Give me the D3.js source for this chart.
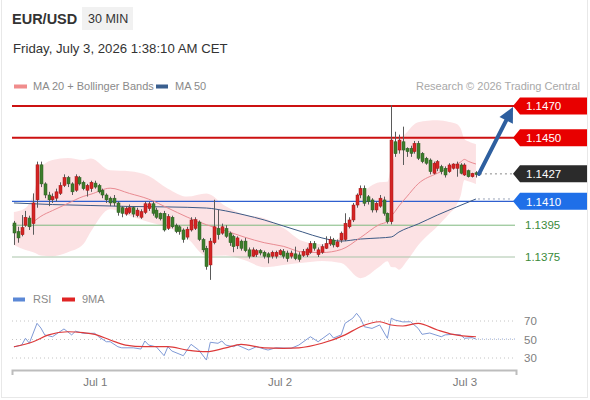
<!DOCTYPE html>
<html><head><meta charset="utf-8">
<script src="https://cdn.jsdelivr.net/npm/d3@7"></script>
<style>
html,body{margin:0;padding:0;background:#fff;}
svg{display:block;font-family:"Liberation Sans",Arial,Helvetica,sans-serif;}
</style></head><body>
<svg id="c" width="590" height="400"></svg>
<script>
// ---- EUR/USD 30-minute candles (index 0 = Jun 30 13:30 CET) ----
const open = [1.13964,1.1391,1.1389,1.1395,1.13995,1.1396,1.1411,1.1433,1.1421,1.1414,
1.1411,1.1412,1.1415,1.1420,1.1425,1.1421,1.1417,1.1425,1.1422,1.1417,
1.1418,1.14215,1.1420,1.1417,1.1414,1.1412,1.1412,1.1409,1.1406,1.1402,
1.1403,1.1406,1.1401,1.1400,1.1403,1.14055,1.14085,1.14045,1.14025,1.14025,
1.1393,1.1400,1.1395,1.1394,1.1392,1.13875,1.1392,1.1393,1.1397,1.1386,
1.13805,1.1370,1.1384,1.1393,1.1390,1.1393,1.1390,1.1388,1.1382,1.1385,
1.1385,1.13795,1.13755,1.13765,1.1379,1.1378,1.1377,1.13755,1.13755,1.13765,
1.13785,1.13775,1.13755,1.1377,1.13763,1.1376,1.13763,1.1378,1.13835,1.13765,
1.1378,1.13805,1.13832,1.13857,1.13815,1.13857,1.1386,1.1394,1.13983,1.14077,
1.1414,1.14182,1.14129,1.14109,1.14046,1.1407,1.14109,1.14025,1.13972,1.14475,
1.14423,1.14475,1.14434,1.14434,1.14413,1.14465,1.14402,1.14371,1.1436,1.14277,
1.14308,1.14318,1.14308,1.14287,1.14308,1.14308,1.14329,1.14266,1.14293,1.14255,1.1428];
const high = [1.13977,1.1394,1.14014,1.1404,1.1401,1.1415,1.1435,1.1435,1.1422,1.1416,
1.1415,1.1418,1.1422,1.1427,1.1426,1.1422,1.1427,1.1426,1.1423,1.1421,
1.1423,1.1423,1.1421,1.1418,1.1415,1.1413,1.1414,1.1410,1.1407,1.1407,
1.1408,1.1407,1.1406,1.1405,1.1410,1.1410,1.1410,1.1406,1.1403,1.1404,
1.1402,1.1401,1.1396,1.1395,1.1393,1.1394,1.1400,1.1400,1.1398,1.1387,
1.1382,1.1387,1.1411,1.14046,1.1396,1.1395,1.1391,1.1389,1.1388,1.1386,
1.1387,1.1381,1.1381,1.1380,1.1380,1.1379,1.1378,1.1379,1.1379,1.1380,
1.1380,1.1379,1.1379,1.13815,1.1378,1.1380,1.1381,1.1385,1.1385,1.1381,
1.1383,1.1388,1.1388,1.1387,1.1386,1.1391,1.14025,1.1400,1.1409,1.1415,
1.1420,1.1420,1.1414,1.1412,1.1410,1.1414,1.1413,1.1403,1.14706,1.14538,
1.1452,1.1457,1.1444,1.1445,1.1448,1.1448,1.1441,1.1438,1.1437,1.1435,
1.1436,1.1433,1.1432,1.1434,1.1434,1.1435,1.1434,1.1434,1.1430,1.1428,1.1429];
const low = [1.13826,1.1384,1.1388,1.1394,1.1392,1.1389,1.1406,1.1419,1.1412,1.1407,
1.1409,1.1410,1.1414,1.1419,1.1419,1.1414,1.1416,1.1420,1.1417,1.1413,
1.1416,1.1418,1.1415,1.1412,1.1409,1.1407,1.1407,1.1401,1.1400,1.1401,
1.1402,1.1400,1.1400,1.1399,1.1402,1.1404,1.1401,1.1399,1.1398,1.1391,
1.1392,1.1393,1.1390,1.1389,1.1384,1.1386,1.1391,1.1392,1.1385,1.1378,
1.1367,1.13606,1.1383,1.1386,1.1389,1.1387,1.1382,1.1378,1.1380,1.1379,
1.1378,1.1374,1.1375,1.1375,1.1376,1.1374,1.1371,1.1374,1.1374,1.1376,
1.1374,1.1372,1.1374,1.1373,1.1372,1.1375,1.1375,1.1377,1.1379,1.1375,
1.1377,1.1380,1.1382,1.1381,1.1381,1.1384,1.1385,1.1393,1.1397,1.1406,
1.1412,1.1407,1.1408,1.1403,1.1403,1.1406,1.1401,1.1396,1.13955,1.1438,
1.1440,1.14329,1.1438,1.1438,1.1440,1.1436,1.1434,1.1433,1.1427,1.1427,
1.1429,1.1427,1.1425,1.1428,1.1430,1.14255,1.1427,1.1426,1.1425,1.1425,1.1425];
const close = [1.13901,1.1387,1.13935,1.1400,1.1394,1.1409,1.1433,1.1421,1.1414,1.1411,
1.1413,1.1416,1.1420,1.1425,1.1421,1.1416,1.14255,1.1421,1.1418,1.1420,
1.1422,1.1419,1.1416,1.1414,1.1411,1.1409,1.1409,1.1403,1.14025,1.14055,
1.1406,1.1402,1.14045,1.14035,1.14085,1.14085,1.14025,1.1400,1.1399,1.1392,
1.14005,1.1394,1.1391,1.1391,1.1386,1.13925,1.13983,1.13985,1.1386,1.13795,
1.1369,1.1385,1.1394,1.1389,1.1394,1.1388,1.1384,1.13815,1.1387,1.13805,
1.1379,1.13755,1.13795,1.1379,1.13775,1.13755,1.1375,1.1378,1.1378,1.1379,
1.13755,1.1374,1.13775,1.1374,1.13735,1.13785,1.1380,1.13835,1.13805,1.13795,
1.13815,1.13835,1.1386,1.13826,1.13845,1.1390,1.13962,1.13983,1.14077,1.1414,
1.14182,1.14088,1.14098,1.14046,1.14088,1.1412,1.14025,1.13972,1.14486,1.1440,
1.14486,1.14423,1.14413,1.14402,1.14465,1.14371,1.1435,1.1434,1.14287,1.1434,
1.1435,1.14287,1.14266,1.14329,1.14335,1.14335,1.14277,1.14329,1.14255,1.14276,1.14269];

// ---- indicators (candle index, value) ----
const bandIdx = [0,3,5,7,10,14,18,20,25,30,35,40,45,50,55,60,65,70,75,80,85,90,95,97,98,99,100,102,105,110,113,115,116,117,118,120];
const ma20 = [null,null,1.1397,1.14006,1.14042,1.14087,1.14131,1.14145,1.14183,1.1415,1.14114,1.14058,1.14001,1.13953,1.13915,1.13874,1.1384,1.13817,1.13781,1.13778,1.13797,1.13872,1.13955,1.13973,1.14007,1.14037,1.14071,1.14128,1.14211,1.14277,1.1431,1.14333,1.14347,1.14364,1.14352,1.14335];
const bbUpper = [1.14033,1.14058,1.1414,1.1431,1.1436,1.14373,1.1436,1.1437,1.14295,1.1429,1.1426,1.1418,1.1413,1.1415,1.1407,1.14016,1.13994,1.13933,1.1385,1.1383,1.1388,1.14127,1.1422,1.14223,1.14327,1.1439,1.1447,1.14533,1.14598,1.1461,1.1460,1.14587,1.1456,1.14493,1.14478,1.1446];
const bbLower = [1.13826,1.13794,1.1378,1.1376,1.13755,1.1378,1.1383,1.1391,1.1405,1.1401,1.1397,1.13935,1.1387,1.13757,1.1376,1.1373,1.13686,1.137,1.13714,1.13725,1.13712,1.13617,1.1369,1.13723,1.13687,1.13685,1.1367,1.13723,1.13824,1.13944,1.1402,1.14079,1.14133,1.14235,1.14226,1.1421];
const ma50Idx = [0,10,20,30,40,50,55,60,65,70,75,80,85,90,95,98,100,105,110,115,120];
const ma50 = [1.1409,1.1408,1.14074,1.14068,1.14065,1.14058,1.1404,1.14014,1.13983,1.13945,1.13907,1.1387,1.1385,1.13863,1.1387,1.13876,1.13907,1.13958,1.14014,1.14065,1.14115];

const rsiIdx = [0,2,3,4,6,7,8,10,13,15,16,18,21,22,24,25,27,28,31,33,34,35,37,39,40,41,44,46,48,50,51,53,54,55,57,58,61,63,65,66,68,72,74,77,79,82,83,85,86,88,89,90,91,93,95,97,98,99,101,103,105,106,108,111,112,114,116,117,119,120];
const rsi = [42,44,51.3,46,67.5,62.4,55,53,61.4,55,59,56.7,56.7,53,47.6,47.6,42.2,41,41,39.7,48.4,44,42,32.5,42.2,37.6,32.5,44.8,38.6,27.8,47,45.9,48.4,44,42.2,44,38.6,42.2,39.7,38.6,41,40.5,44,53,47.6,56.7,51.6,55,67.5,73,78.3,73,63.8,62,65.7,51.3,73,71,69,69.2,62,55.6,57,53,55,55.6,55,51.3,52,50.5];
const ma9Idx = [0,5,9,14,18,21,25,29,34,40,45,50,55,59,65,70,74,80,86,90,95,98,101,105,110,114,120];
const ma9 = [42.2,47.6,55,58.4,57.4,55.6,49.5,44,42.2,42.2,38.6,36.8,41,44.8,41,40.5,41,45.9,55,63.8,69.2,65.7,64.6,67.5,60.3,55.6,53];

// ---- levels, labels, axis ----
const levels = [1.1470, 1.1450, 1.1410, 1.1395, 1.1375];
const levelLabels = ["1.1470", "1.1450", "1.1410", "1.1395", "1.1375"];
const lastPrice = 1.14273, lastPriceLabel = "1.1427";
const rsiTicks = [70, 50, 30];
const dayTickIdx = [21, 69, 117];
const dayTickLabels = ["Jul 1", "Jul 2", "Jul 3"];

const svg = d3.select("#c");
const x = d3.scaleLinear().domain([-0.5, 130.4]).range([12, 516]);
const y = d3.scaleLinear().domain([1.1375, 1.1470]).range([257, 106]);
const yr = d3.scaleLinear().domain([30, 70]).range([358, 321]);
const X0 = 12, X1 = 515, TIP = 513;

// card border
svg.append("rect").attr("x",1.5).attr("y",-2).attr("width",586).attr("height",399.5)
  .attr("fill","none").attr("stroke","#e8e8e8");

// header
svg.append("text").attr("x",12).attr("y",24).attr("font-size",14.5).attr("font-weight","bold")
  .attr("fill","#333").text("EUR/USD");
svg.append("rect").attr("x",82).attr("y",7).attr("width",51).attr("height",23).attr("fill","#f1f1f1");
svg.append("text").attr("x",88).attr("y",23).attr("font-size",12.5).attr("fill","#333").text("30 MIN");
svg.append("text").attr("x",13).attr("y",53).attr("font-size",13.2).attr("fill","#333")
  .text("Friday, July 3, 2026 1:38:10 AM CET");

// legend
svg.append("rect").attr("x",14).attr("y",84.5).attr("width",13).attr("height",4).attr("fill","#f08c8c");
svg.append("text").attr("x",33).attr("y",90).attr("font-size",11).attr("fill","#8a8a8a").text("MA 20 + Bollinger Bands");
svg.append("rect").attr("x",156).attr("y",84.5).attr("width",12).attr("height",4).attr("fill","#3a5f8f");
svg.append("text").attr("x",175).attr("y",90).attr("font-size",11).attr("fill","#8a8a8a").text("MA 50");
svg.append("text").attr("x",580).attr("y",90).attr("text-anchor","end").attr("font-size",11)
  .attr("fill","#a8a8a8").text("Research \u00a9 2026 Trading Central");

// bollinger band
const bandPts = bandIdx.map((d,i)=>({i:d, u:bbUpper[i], l:bbLower[i], m:ma20[i]}));
svg.append("path").datum(bandPts)
  .attr("d", d3.area().x(d=>x(d.i)).y0(d=>y(d.l)).y1(d=>y(d.u)).curve(d3.curveMonotoneX))
  .attr("fill","rgba(238,110,120,0.2)");

// level lines
const levelStroke = ["#cc1111","#cc1111","#2f5fcf","#7fb87f","#a9c4a9"];
const levelWidth = [2,2,1.3,1,1];
svg.selectAll(".lvl").data(levels).enter().append("line")
  .attr("x1",X0).attr("x2",X1).attr("y1",d=>y(d)).attr("y2",d=>y(d))
  .attr("stroke",(d,i)=>levelStroke[i]).attr("stroke-width",(d,i)=>levelWidth[i]);

// MA50
const ma50Pts = ma50Idx.map((d,i)=>({i:d, v:ma50[i]}));
svg.append("path").datum(ma50Pts)
  .attr("d", d3.line().x(d=>x(d.i)).y(d=>y(d.v)).curve(d3.curveMonotoneX))
  .attr("fill","none").attr("stroke","#3d5a85").attr("stroke-width",1);
// MA20
svg.append("path").datum(bandPts)
  .attr("d", d3.line().defined(d=>d.m!==null).x(d=>x(d.i)).y(d=>y(d.m)).curve(d3.curveMonotoneX))
  .attr("fill","none").attr("stroke","#e98b92").attr("stroke-width",1);

// dotted extensions
const lastI = close.length - 1;
svg.append("line").attr("x1",x(lastI)+4).attr("x2",TIP).attr("y1",y(lastPrice)).attr("y2",y(lastPrice))
  .attr("stroke","#888").attr("stroke-dasharray","2,3");
svg.append("line").attr("x1",x(lastI)+2).attr("x2",TIP).attr("y1",y(ma50[ma50.length-1])).attr("y2",y(ma50[ma50.length-1]))
  .attr("stroke","#99a3b8").attr("stroke-dasharray","2,3");

// candles
const candles = open.map((o,i)=>({i, o, h:high[i], l:low[i], c:close[i]}));
const cg = svg.append("g");
cg.selectAll(".w").data(candles).enter().append("line")
  .attr("x1",d=>Math.round(x(d.i))+0.5).attr("x2",d=>Math.round(x(d.i))+0.5)
  .attr("y1",d=>y(d.h)).attr("y2",d=>y(d.l)).attr("stroke","#5a5a5a").attr("stroke-width",1);
cg.selectAll(".b").data(candles).enter().append("rect")
  .attr("x",d=>Math.round(x(d.i))-1).attr("width",3)
  .attr("y",d=>y(Math.max(d.o,d.c))).attr("height",d=>Math.max(1,Math.abs(y(d.o)-y(d.c))))
  .attr("fill",d=>d.c>=d.o?"#d42525":"#3d7d2c")
  .attr("stroke",d=>d.c>=d.o?"#a51515":"#2c5e20").attr("stroke-width",0.5);

// forecast arrow
const sx = x(lastI)+3, sy = y(lastPrice), tx = TIP, ty = y(levels[0]) + 1;
const len = Math.hypot(tx-sx, ty-sy), ux = (tx-sx)/len, uy = (ty-sy)/len;
const hl = 15, hw = 7.5;
const bx = tx-ux*hl, by = ty-uy*hl;
svg.append("line").attr("x1",sx).attr("y1",sy).attr("x2",bx+ux*2).attr("y2",by+uy*2)
  .attr("stroke","#2e5f9f").attr("stroke-width",4).attr("stroke-linecap","round");
svg.append("path").attr("d",`M${tx},${ty}L${bx-uy*hw},${by+ux*hw}L${bx+uy*hw},${by-ux*hw}Z`)
  .attr("fill","#2e5f9f");

// right-hand tags
function tag(v, label, bg){
  const yy = y(v);
  svg.append("path").attr("d",`M${TIP},${yy}L${TIP+7},${yy-8.5}L587,${yy-8.5}L587,${yy+8.5}L${TIP+7},${yy+8.5}Z`)
    .attr("fill",bg);
  svg.append("text").attr("x",526).attr("y",yy).attr("dy","0.36em").attr("font-size",11.5)
    .attr("fill","#fff").text(label);
}
tag(levels[0], levelLabels[0], "#e80000");
tag(levels[1], levelLabels[1], "#e80000");
tag(lastPrice, lastPriceLabel, "#2b2b2b");
tag(levels[2], levelLabels[2], "#1f6fe8");
[3,4].forEach(k=>{
  svg.append("text").attr("x",525).attr("y",y(levels[k])).attr("dy","0.36em").attr("font-size",11.5)
    .attr("fill","#3a8a3a").text(levelLabels[k]);
});

// RSI panel
svg.append("rect").attr("x",13).attr("y",297.5).attr("width",12).attr("height",4).attr("fill","#5b88d6");
svg.append("text").attr("x",33).attr("y",303).attr("font-size",11).attr("fill","#8a8a8a").text("RSI");
svg.append("rect").attr("x",62).attr("y",297.5).attr("width",13).attr("height",4).attr("fill","#e02424");
svg.append("text").attr("x",82).attr("y",303).attr("font-size",11).attr("fill","#8a8a8a").text("9MA");

svg.selectAll(".rg").data(rsiTicks).enter().append("line")
  .attr("x1",X0).attr("x2",X1).attr("y1",d=>yr(d)).attr("y2",d=>yr(d))
  .attr("stroke","#c4c4c4").attr("stroke-dasharray","1,3");
svg.selectAll(".rt").data(rsiTicks).enter().append("text")
  .attr("x",524).attr("y",d=>yr(d)).attr("dy","0.36em").attr("font-size",11.5).attr("fill","#808080")
  .text(d=>d);

const rsiPts = rsiIdx.map((d,i)=>({i:d, v:rsi[i]}));
const ma9Pts = ma9Idx.map((d,i)=>({i:d, v:ma9[i]}));
svg.append("path").datum(rsiPts)
  .attr("d", d3.line().x(d=>x(d.i)).y(d=>yr(d.v)))
  .attr("fill","none").attr("stroke","#7f9ad6").attr("stroke-width",1);
svg.append("path").datum(ma9Pts)
  .attr("d", d3.line().x(d=>x(d.i)).y(d=>yr(d.v)).curve(d3.curveMonotoneX))
  .attr("fill","none").attr("stroke","#dd3a3a").attr("stroke-width",1.2);
svg.append("line").attr("x1",x(lastI)+2).attr("x2",X1).attr("y1",yr(rsi[rsi.length-1])).attr("y2",yr(rsi[rsi.length-1]))
  .attr("stroke","#8fa6d8").attr("stroke-dasharray","1,3");

// x axis
const ax = svg.append("g").attr("transform","translate(0,370)")
  .call(d3.axisBottom(x).tickValues(dayTickIdx).tickFormat((d,i)=>dayTickLabels[i])
    .tickSizeInner(0).tickSizeOuter(5).tickPadding(8));
ax.select(".domain").attr("stroke","#bdbdbd").attr("stroke-width",2);
ax.selectAll("text").attr("fill","#7a7a7a").attr("font-size",11.5)
  .attr("font-family","'Liberation Sans',Arial,sans-serif");
</script>
</body></html>
